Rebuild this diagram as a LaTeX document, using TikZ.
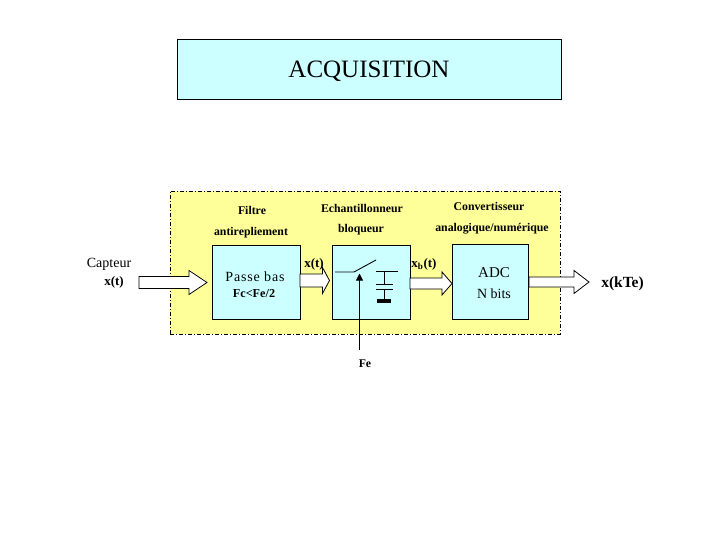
\documentclass[tikz,border=0pt]{standalone}
\usepackage{fontspec}
\setmainfont{Liberation Serif}
\usetikzlibrary{arrows.meta,calc}
\definecolor{paleyellow}{HTML}{FFFF99}
\definecolor{palecyan}{HTML}{CCFFFF}
\tikzset{
  title/.style={draw=black,line width=0.6pt,fill=palecyan,minimum width=384pt,minimum height=60pt,inner sep=0pt},
  panel/.style={draw=black,line width=0.7pt,dash pattern=on 4pt off 2pt on 1pt off 2pt,fill=paleyellow,minimum width=390pt,minimum height=143pt,inner sep=0pt},
  block/.style={draw=black,line width=0.8pt,fill=palecyan,inner sep=0pt},
  head/.style={font=\bfseries\fontsize{11.8}{13}\selectfont,inner sep=0pt},
  plain/.style={font=\fontsize{14}{16}\selectfont,inner sep=0pt},
  bold/.style={font=\bfseries\fontsize{13}{15}\selectfont,inner sep=0pt},
  wire/.style={draw=black,line width=0.9pt},
  fatarrow/.style={draw=black,line width=0.8pt,fill=white,line join=miter}
}
% #1 tail, #2 tip, #3 head length, #4 half body width, #5 half head width
\newcommand{\blockarrow}[5]{%
  \draw[fatarrow] let \p1=(#1), \p2=(#2) in
    (\x1,\y1+#4pt) -- (\x2-#3pt,\y1+#4pt) -- (\x2-#3pt,\y1+#5pt) -- (\x2,\y1)
    -- (\x2-#3pt,\y1-#5pt) -- (\x2-#3pt,\y1-#4pt) -- (\x1,\y1-#4pt) -- cycle;}
\begin{document}
\begin{tikzpicture}[x=1pt,y=-1pt]
\useasboundingbox (0,0) rectangle (720,540);
\fill[white] (0,0) rectangle (720,540);
\node[title] (titlebox) at (369,69.5) {};
\node[font=\fontsize{25}{27}\selectfont,inner sep=0pt] (titletext) at (369,71.5) {ACQUISITION};
\node[panel] (panelbox) at (365,262.5) {};
\node[block,minimum width=88pt,minimum height=74pt] (filt) at (256,282) {};
\node[block,minimum width=78pt,minimum height=74pt] (samp) at (371,282) {};
\node[block,minimum width=76pt,minimum height=75pt] (adc) at (490,281.5) {};
% block arrows
\coordinate (a1s) at (139,282.5); \coordinate (a1e) at (207,282.5);
\coordinate (a2s) at (300,280.5); \coordinate (a2e) at (329.5,280.5);
\coordinate (a3s) at (410,283.5); \coordinate (a3e) at (452,283.5);
\coordinate (a4s) at (529,282); \coordinate (a4e) at (589,282);
\blockarrow{a1s}{a1e}{18}{6}{12}
\blockarrow{a2s}{a2e}{7}{6.5}{13}
\blockarrow{a3s}{a3e}{10}{5.5}{11.5}
\blockarrow{a4s}{a4e}{15}{5}{11.5}
% headings
\node[head] (h1a) at (252,210) {Filtre};
\node[head] (h1b) at (251,233) {antirepliement};
\node[head] (h2a) at (362,208) {Echantillonneur};
\node[head] (h2b) at (361,230) {bloqueur};
\node[head] (h3a) at (489,206) {Convertisseur};
\node[head] (h3b) at (492,229) {analogique/numérique};
% labels
\node[font=\fontsize{14}{16}\selectfont,inner sep=0pt] (capt) at (109,264) {Capteur};
\node[bold] (xin) at (114,282) {x(t)};
\node[plain] (pb) at (255,277) {\addfontfeatures{LetterSpace=6}Passe bas};
\node[font=\bfseries\fontsize{12.2}{14}\selectfont,inner sep=0pt] (fc) at (254,294) {Fc<Fe/2};
\node[bold] (xt) at (314,264) {x(t)};
\node[bold] (xb) at (424,264) {x\textsubscript{b}(t)};
\node[font=\fontsize{15}{17}\selectfont,inner sep=0pt] (adct) at (494,273) {ADC};
\node[plain] (nb) at (494,294) {N bits};
\node[font=\bfseries\fontsize{15.5}{17}\selectfont,inner sep=0pt] (xk) at (622.5,283.5) {x(kTe)};
\node[head] (fe) at (365,364) {Fe};
% switch
\coordinate (s1) at (335,272); \coordinate (s2) at (354,272); \coordinate (s3) at (376,260);
\draw[wire] (s1) -- (s2) -- (s3);
\coordinate (tip) at (359.5,273.5);
\coordinate (feend) at (359.5,350);
\draw[wire,-{Triangle[length=7pt,width=7pt]}] (feend) -- (tip);
% capacitor
\coordinate (c1) at (384,271); \coordinate (c2) at (384,284); \coordinate (c3) at (384,289); \coordinate (c4) at (384,300);
\draw[wire] (c1) -- (c2) (c3) -- (c4);
\draw[wire] (376,271) -- (398,271);
\draw[wire] (376,284) -- (393,284);
\draw[wire] (376,289) -- (393,289);
\fill[black] (377,299) rectangle (391,303);
\end{tikzpicture}
\end{document}
